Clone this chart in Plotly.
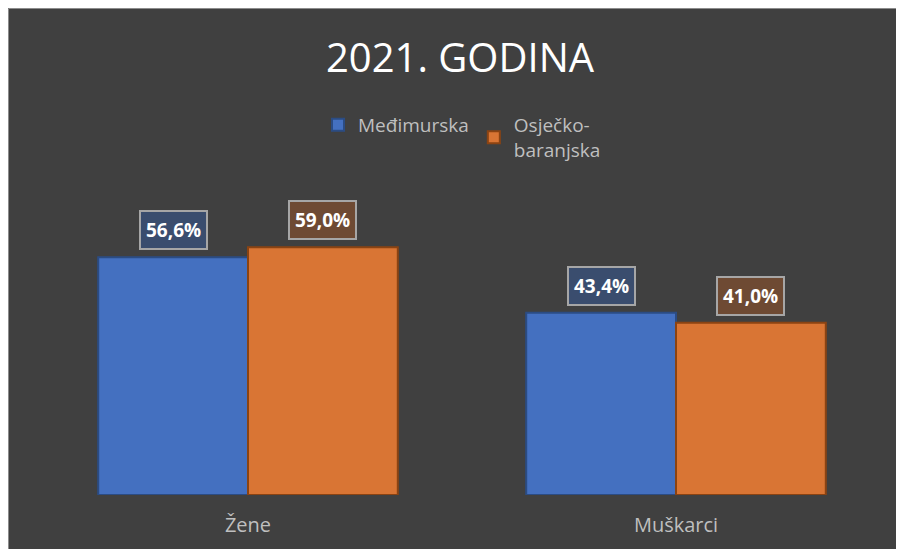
import plotly.graph_objects as go

categories = ["Žene", "Muškarci"]
series_names = ["Međimurska", "Osječko-<br>baranjska"]
medjimurska = [56.6, 43.4]
osijek = [59.0, 41.0]
labels_m = ["56,6%", "43,4%"]
labels_o = ["59,0%", "41,0%"]

W, H = 904, 549
L, R, T, B = 26, 22, 193, 62
pw, ph = W - L - R, H - T - B

bg = "#404040"
fig = go.Figure()
fig.add_trace(go.Bar(x=categories, y=medjimurska, name=series_names[0],
                     marker=dict(color="#4470C0", line=dict(color="#2B4C84", width=2))))
fig.add_trace(go.Bar(x=categories, y=osijek, name=series_names[1],
                     marker=dict(color="#D97534", line=dict(color="#8B4312", width=2))))

bw = 0.35
for i in range(len(categories)):
    for vals, labs, off, fill in [(medjimurska, labels_m, -bw / 2, "#3A4D6E"),
                                  (osijek, labels_o, bw / 2, "#6E4A33")]:
        fig.add_annotation(x=i + off, y=vals[i], text="<b>" + labs[i] + "</b>",
                           showarrow=False, yanchor="bottom", yshift=7,
                           font=dict(color="white", size=19, family="Open Sans"),
                           bgcolor=fill, bordercolor="#A6A6A6", borderwidth=2, borderpad=5)

# thin light border at the chart edge
fig.add_shape(type="rect", xref="paper", yref="paper",
              x0=(-L + 0.5) / pw, x1=(W - L + 5) / pw,
              y0=(-B - 5) / ph, y1=(ph + T - 0.5) / ph,
              fillcolor="rgba(0,0,0,0)", line=dict(color="#8C8C8C", width=1), layer="below")

fig.update_layout(
    width=W, height=H,
    margin=dict(l=L, r=R, t=T, b=B),
    paper_bgcolor=bg, plot_bgcolor=bg,
    barmode="group", bargap=0.3, bargroupgap=0,
    title=dict(text="2021. GODINA", x=0.5, xanchor="center", y=1 - 50 / H, yanchor="middle",
               font=dict(size=40, color="white", family="Open Sans")),
    legend=dict(orientation="h", x=0.5, xanchor="center", y=(H - B - 98) / ph, yanchor="top",
                font=dict(size=19, color="#BFBFBF", family="Open Sans"),
                bgcolor="rgba(0,0,0,0)", itemwidth=30, traceorder="normal"),
    xaxis=dict(showgrid=False, showline=False, zeroline=False, ticklabelstandoff=16,
               tickfont=dict(size=20, color="#BFBFBF", family="Open Sans")),
    yaxis=dict(range=[0, 70], visible=False, showgrid=False),
    font=dict(family="Open Sans"),
)
fig.write_html("out.html")
